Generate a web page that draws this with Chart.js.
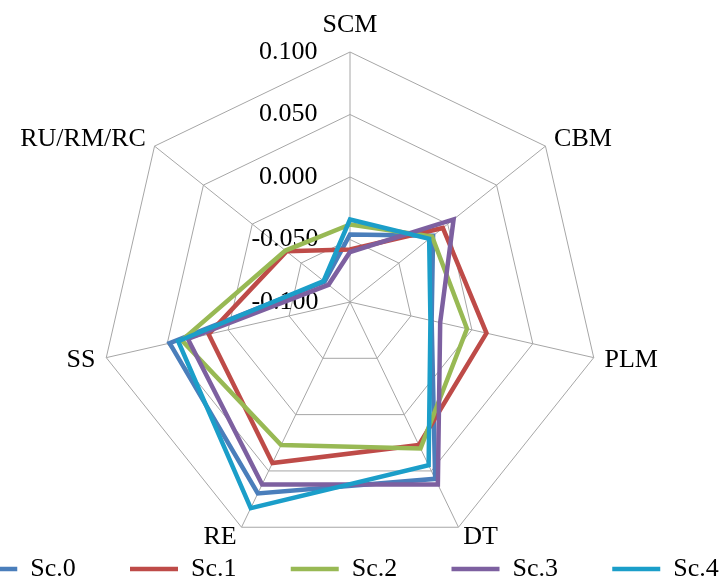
<!DOCTYPE html>
<html>
<head>
<meta charset="utf-8">
<title>Scenario radar</title>
<script src="https://cdn.jsdelivr.net/npm/chart.js@4.4.1/dist/chart.umd.min.js"></script>
<style>
  html, body { margin: 0; padding: 0; background: #fff; overflow: hidden; }
  #wrap { position: relative; width: 721px; height: 577px; overflow: hidden; }
  #radar { position: absolute; left: -106px; top: 0; }
</style>
</head>
<body>
<div id="wrap"><canvas id="radar" width="900" height="592"></canvas></div>
<script>
const categories = ["SCM", "CBM", "PLM", "DT", "RE", "SS", "RU/RM/RC"];
const seriesNames = ["Sc.0", "Sc.1", "Sc.2", "Sc.3", "Sc.4"];

const sc0 = [-0.046, -0.015, -0.033, 0.057, 0.070, 0.048, -0.074];
const sc1 = [-0.058, -0.005, 0.012, 0.027, 0.043, 0.016, -0.035];
const sc2 = [-0.038, -0.016, -0.004, 0.030, 0.027, 0.038, -0.034];
const sc3 = [-0.060, 0.006, -0.026, 0.062, 0.062, 0.033, -0.078];
const sc4 = [-0.034, -0.019, -0.034, 0.045, 0.083, 0.041, -0.073];
const seriesValues = [sc0, sc1, sc2, sc3, sc4];

const tickLabels = ["-0.100", "-0.050", "0.000", "0.050", "0.100"];

const colors = ["#4a7ebb", "#be4b48", "#98b954", "#7d60a0", "#1b9ec9"];
const FONT = "'Liberation Serif', 'Times New Roman', serif";

// where the web sits inside the (wider, shifted) canvas
const CENTER_X = 456;
const CENTER_Y = 302;
const RADIUS = 250;

// pin the radial scale so the web lands where it does in the original
const fixedRadar = {
  id: "fixedRadar",
  beforeLayout(chart) {
    const scale = chart.scales.r;
    if (scale && !scale._pinned) {
      scale._pinned = true;
      scale.setCenterPoint = function () {
        this.xCenter = CENTER_X;
        this.yCenter = CENTER_Y;
        this.drawingArea = RADIUS;
      };
    }
  }
};

// labels off the vertical spoke are centred on their spoke, like Excel does
function centerSideLabels(scale) {
  (scale._pointLabelItems || []).forEach((item, i) => {
    const dy = Math.sin(scale.getIndexAngle(i) - Math.PI / 2);
    if (Math.abs(dy) > 0.99) return;
    const h = item.bottom - item.top;
    const shift = dy < 0 ? h / 2 : -h / 2;
    item.y += shift;
    item.top += shift;
    item.bottom += shift;
  });
}

// ticks are drawn centred on the spoke; trailing spaces push them to its left
const padTick = label => label + " ".repeat(label.startsWith("-") ? 20 : 19);

const ctx = document.getElementById("radar").getContext("2d");
new Chart(ctx, {
  type: "radar",
  data: {
    labels: categories,
    datasets: seriesNames.map((name, i) => ({
      label: name,
      data: seriesValues[i],
      borderColor: colors[i],
      backgroundColor: colors[i],
      borderWidth: 4.5,
      pointRadius: 0,
      pointHoverRadius: 0,
      fill: false,
      clip: false,
      order: seriesNames.length - i
    }))
  },
  options: {
    responsive: false,
    animation: false,
    layout: { padding: 0 },
    scales: {
      r: {
        min: -0.1,
        max: 0.1,
        beginAtZero: false,
        ticks: {
          stepSize: 0.05,
          color: "#000",
          font: { family: FONT, size: 26 },
          showLabelBackdrop: false,
          backdropPadding: 0,
          callback: (value, index) => padTick(tickLabels[index])
        },
        grid: { color: "#a6a6a6", lineWidth: 1 },
        angleLines: { color: "#a6a6a6", lineWidth: 1 },
        pointLabels: {
          color: "#000",
          font: { family: FONT, size: 26 },
          padding: -2
        },
        afterFit: centerSideLabels
      }
    },
    plugins: {
      legend: {
        position: "bottom",
        labels: {
          usePointStyle: true,
          pointStyle: "line",
          pointStyleWidth: 48,
          color: "#000",
          font: { family: FONT, size: 26 },
          padding: 54.25,
          sort: (a, b) => a.datasetIndex - b.datasetIndex
        }
      },
      tooltip: { enabled: false }
    }
  },
  plugins: [fixedRadar]
});
</script>
</body>
</html>
